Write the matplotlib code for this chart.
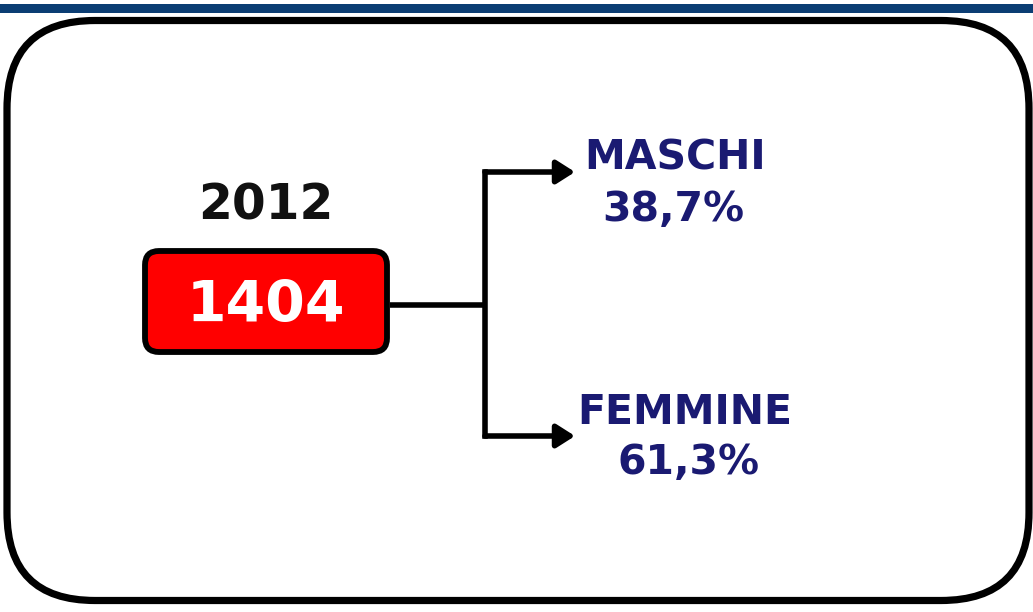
import matplotlib.pyplot as plt
from matplotlib.patches import FancyBboxPatch, Rectangle

# values
anno = "2012"
totale = "1404"
gruppi = ["MASCHI", "FEMMINE"]
quote = ["38,7%", "61,3%"]

navy = "#1a1a72"

fig = plt.figure(figsize=(10.33, 6.12), dpi=100)
ax = fig.add_axes([0, 0, 1, 1])
ax.set_xlim(0, 1033)
ax.set_ylim(612, 0)
ax.axis("off")

# top band
ax.add_patch(Rectangle((0, 4), 1033, 9, color="#0b3d73", lw=0))

# outer rounded frame
frame = FancyBboxPatch((7, 20.5), 1022, 580,
                       boxstyle="round,pad=0,rounding_size=88",
                       fc="white", ec="black", lw=5.2)
ax.add_patch(frame)

# year + red total box
ax.text(266, 206, anno, ha="center", va="center", fontsize=35,
        fontweight="bold", color="#111111")
box = FancyBboxPatch((145, 251), 242, 101,
                     boxstyle="round,pad=0,rounding_size=14",
                     fc="#ff0000", ec="black", lw=4.2)
ax.add_patch(box)
ax.text(266, 306, totale, ha="center", va="center", fontsize=41,
        fontweight="bold", color="white")

# connector
lw = 4
ax.plot([390, 485], [305, 305], color="black", lw=lw, solid_capstyle="butt")
ax.plot([485, 485], [172, 436], color="black", lw=lw, solid_capstyle="projecting")
ys = [172, 436]
for y in ys:
    ax.annotate("", xy=(575, y), xytext=(485, y),
                arrowprops=dict(arrowstyle="-|>,head_length=1.1,head_width=0.7",
                                color="black", lw=lw, shrinkA=0, shrinkB=0))

# labels
lab_x = [675, 685]
pct_x = [673, 689]
lab_y = [159, 413]
pct_y = [210, 463]
for i in range(len(gruppi)):
    ax.text(lab_x[i], lab_y[i], gruppi[i], ha="center", va="center",
            fontsize=29.5, fontweight="bold", color=navy)
    ax.text(pct_x[i], pct_y[i], quote[i], ha="center", va="center",
            fontsize=29.5, fontweight="bold", color=navy)

fig.savefig("out.png", dpi=100)
